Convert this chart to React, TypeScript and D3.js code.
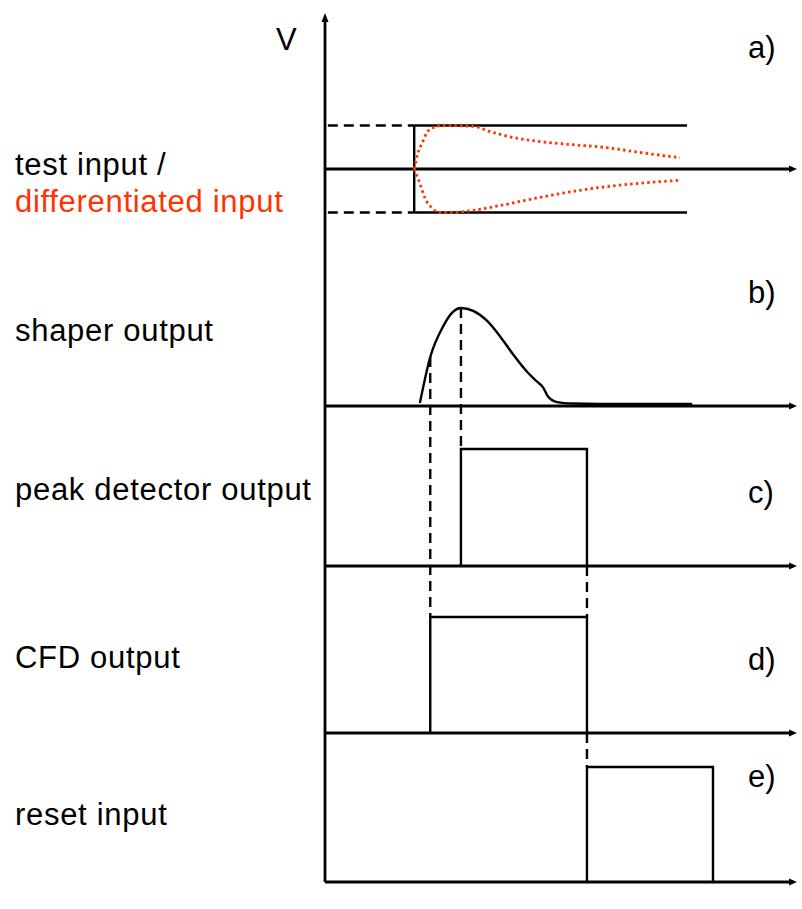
import React from "react";
import * as d3 from "d3";

// ---- data (time in arbitrary units 0..100, values normalised) ----
const panelIds = ["a", "b", "c", "d", "e"];
const panelTags = ["a)", "b)", "c)", "d)", "e)"];
const leftLabels = ["shaper output", "peak detector output", "CFD output", "reset input"];
const testLabel1 = "test input /";
const testLabel2 = "differentiated input";
const axisLabel = "V";

// test input step
const testStart = 18.9;
const testEnd = 76.7;
const testLevel = 1;

// differentiated input (dotted red), upper and lower branches [t, v]
const diffUpper: [number, number][] = [
  [18.9, 0], [19.7, 0.37], [20.6, 0.6], [21.6, 0.84], [22.9, 0.95], [25.0, 1.0],
  [31.4, 0.98], [35.0, 0.86], [39.2, 0.74], [45.6, 0.63], [52.5, 0.56],
  [59.7, 0.49], [66.7, 0.38], [75.2, 0.26],
];
const diffLower: [number, number][] = [
  [18.9, 0], [20.1, -0.33], [21.2, -0.67], [22.7, -0.9], [24.4, -1.0], [27.1, -1.0],
  [31.4, -0.95], [37.1, -0.84], [45.6, -0.65], [54.0, -0.49], [62.5, -0.37], [75.2, -0.26],
];

// shaper output [t, v]
const shaper: [number, number][] = [
  [20.1, 0.03], [22.3, 0.5], [25.0, 0.81], [26.9, 0.95], [28.8, 1.0], [31.4, 0.97],
  [34.3, 0.87], [37.1, 0.71], [39.8, 0.53], [42.8, 0.35], [44.9, 0.25], [46.2, 0.19],
  [47.2, 0.1], [49.2, 0.04], [52.5, 0.025], [58.3, 0.02], [77.8, 0.02],
];
const cfdThreshold = 0.5;

// timing events
const cfdTime = 22.3;
const peakTime = 28.8;
const resetTime = 55.5;
const resetEnd = 82.2;

// pulses [panel, start, end]
const pulses: [string, number, number][] = [
  ["c", peakTime, resetTime],
  ["d", cfdTime, resetTime],
  ["e", resetTime, resetEnd],
];

const W = 802;
const H = 909;
const FONT = "'Liberation Sans', Arial, Helvetica, sans-serif";
const RED = "#ff3300";

export default function App() {
  const x = d3.scaleLinear().domain([0, 100]).range([325, 797]);

  // per-panel vertical scales (value -> px)
  const yScales: Record<string, d3.ScaleLinear<number, number>> = {
    a: d3.scaleLinear().domain([-1, 1]).range([212.5, 125.5]),
    b: d3.scaleLinear().domain([0, 1]).range([406, 308]),
    c: d3.scaleLinear().domain([0, 1]).range([566, 449]),
    d: d3.scaleLinear().domain([0, 1]).range([733, 617]),
    e: d3.scaleLinear().domain([0, 1]).range([882, 767]),
  };
  const base = (id: string) => yScales[id](0);

  const lineGen = (ys: d3.ScaleLinear<number, number>) =>
    d3
      .line<[number, number]>()
      .x((d) => x(d[0]))
      .y((d) => ys(d[1]))
      .curve(d3.curveMonotoneX);

  const ya = yScales.a;
  const x0 = x(0);
  const xEnd = x(100);

  const arrowH = (y: number) =>
    `M${xEnd},${y} L${xEnd - 8},${y - 3.5} L${xEnd - 8},${y + 3.5} Z`;

  const dash = "10,6";
  const axisW = 2.8;
  const sigW = 2.4;

  return (
    <svg
      width={W}
      height={H}
      style={{ position: "absolute", left: 0, top: 0, background: "#fff" }}
      fontFamily={FONT}
    >
      <rect width={W} height={H} fill="#fff" />

      {/* vertical axis */}
      <line x1={x0} x2={x0} y1={base("e")} y2={22} stroke="#000" strokeWidth={axisW} />
      <path d={`M${x0},13 L${x0 - 3.5},22 L${x0 + 3.5},22 Z`} fill="#000" />
      <text x={276} y={50} fontSize={31} fill="#000">{axisLabel}</text>

      {/* baselines with arrows */}
      {panelIds.map((id) => (
        <g key={id}>
          <line x1={x0} x2={xEnd - 6} y1={base(id)} y2={base(id)} stroke="#000" strokeWidth={axisW} />
          <path d={arrowH(base(id))} fill="#000" />
        </g>
      ))}

      {/* panel a: test input */}
      <line x1={x(0.6)} x2={x(testStart)} y1={ya(testLevel)} y2={ya(testLevel)} stroke="#000" strokeWidth={sigW} strokeDasharray={dash} />
      <line x1={x(0.6)} x2={x(testStart)} y1={ya(-testLevel)} y2={ya(-testLevel)} stroke="#000" strokeWidth={sigW} strokeDasharray={dash} />
      <line x1={x(testStart)} x2={x(testEnd)} y1={ya(testLevel)} y2={ya(testLevel)} stroke="#000" strokeWidth={sigW} />
      <line x1={x(testStart)} x2={x(testEnd)} y1={ya(-testLevel)} y2={ya(-testLevel)} stroke="#000" strokeWidth={sigW} />
      <line x1={x(testStart)} x2={x(testStart)} y1={ya(testLevel)} y2={ya(-testLevel)} stroke="#000" strokeWidth={sigW} />

      <path d={lineGen(ya)(diffUpper) || ""} fill="none" stroke={RED} strokeWidth={2.8} strokeDasharray="2.5,3.2" />
      <path d={lineGen(ya)(diffLower) || ""} fill="none" stroke={RED} strokeWidth={2.8} strokeDasharray="2.5,3.2" />

      {/* panel b: shaper */}
      <path d={lineGen(yScales.b)(shaper) || ""} fill="none" stroke="#000" strokeWidth={sigW} />

      {/* pulses */}
      {pulses.map(([id, t0, t1]) => {
        const ys = yScales[id];
        const d = `M${x(t0)},${ys(0)} L${x(t0)},${ys(1)} L${x(t1)},${ys(1)} L${x(t1)},${ys(0)}`;
        return <path key={id} d={d} fill="none" stroke="#000" strokeWidth={sigW} />;
      })}

      {/* timing dashed links */}
      <line x1={x(cfdTime)} x2={x(cfdTime)} y1={yScales.b(cfdThreshold)} y2={yScales.d(1)} stroke="#000" strokeWidth={sigW} strokeDasharray={dash} />
      <line x1={x(peakTime)} x2={x(peakTime)} y1={yScales.b(1)} y2={yScales.c(1)} stroke="#000" strokeWidth={sigW} strokeDasharray={dash} />
      <line x1={x(resetTime)} x2={x(resetTime)} y1={yScales.c(0)} y2={yScales.d(1)} stroke="#000" strokeWidth={sigW} strokeDasharray={dash} />
      <line x1={x(resetTime)} x2={x(resetTime)} y1={yScales.d(0)} y2={yScales.e(1)} stroke="#000" strokeWidth={sigW} strokeDasharray={dash} />

      {/* labels */}
      <g fontSize={31} letterSpacing={0.7}>
        <text x={15} y={175} fill="#000">{testLabel1}</text>
        <text x={15} y={212} fill={RED}>{testLabel2}</text>
        <text x={15} y={341} fill="#000">{leftLabels[0]}</text>
        <text x={15} y={500} fill="#000">{leftLabels[1]}</text>
        <text x={15} y={668} fill="#000">{leftLabels[2]}</text>
        <text x={15} y={825} fill="#000">{leftLabels[3]}</text>
      </g>
      <g fontSize={31}>
        {[58, 303, 503, 670, 787].map((yy, i) => (
          <text key={i} x={748} y={yy} fill="#000">{panelTags[i]}</text>
        ))}
      </g>
    </svg>
  );
}
